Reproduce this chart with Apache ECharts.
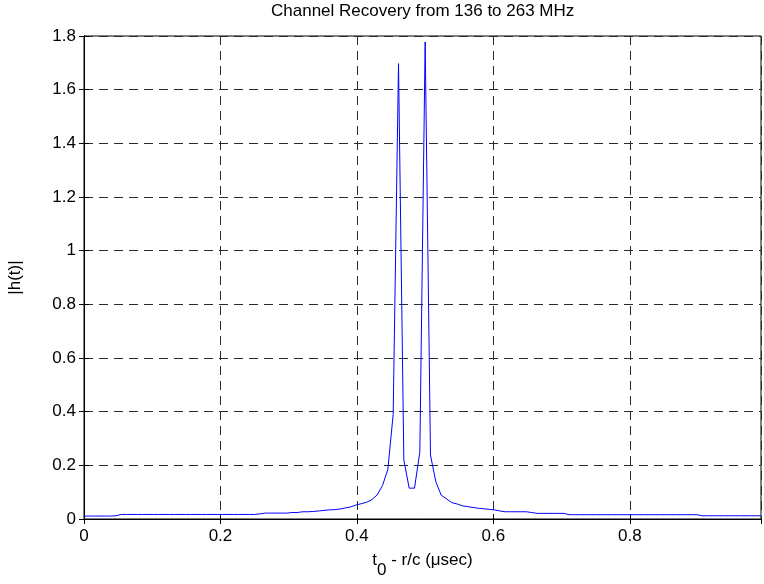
<!DOCTYPE html>
<html>
<head>
<meta charset="utf-8">
<script src="https://cdn.jsdelivr.net/npm/echarts@6/dist/echarts.min.js"></script>
<style>
html,body{margin:0;padding:0;background:#fff;}
#chart{width:764px;height:584px;}
</style>
</head>
<body>
<div id="chart"></div>
<script>
// ---- data ----
const chartTitle = 'Channel Recovery from 136 to 263 MHz';
const xName = 't0 - r/c (μsec)';
const yName = '|h(t)|';
const sampleStep = 1 / 128;          // time spacing of samples (µs)
const xMax = 127 / 128;
const xTickStep = 0.2;
const yMin = 0, yMax = 1.8, yTickStep = 0.2;
const hValues = [
  0.011, 0.011, 0.011, 0.011, 0.011, 0.011, 0.012, 0.017, 0.017, 0.017,
  0.017, 0.017, 0.017, 0.017, 0.017, 0.017, 0.017, 0.017, 0.017, 0.017,
  0.017, 0.017, 0.017, 0.017, 0.017, 0.017, 0.017, 0.017, 0.017, 0.017,
  0.017, 0.017, 0.017, 0.019, 0.022, 0.022, 0.022, 0.022, 0.022, 0.024,
  0.024, 0.027, 0.027, 0.028, 0.030, 0.032, 0.034, 0.035, 0.037, 0.041,
  0.045, 0.052, 0.057, 0.062, 0.072, 0.090, 0.125, 0.185, 0.390, 1.697,
  0.220, 0.115, 0.115, 0.250, 1.778, 0.238, 0.139, 0.089, 0.075, 0.061,
  0.056, 0.049, 0.046, 0.043, 0.040, 0.038, 0.036, 0.034, 0.030, 0.027,
  0.027, 0.027, 0.027, 0.027, 0.024, 0.021, 0.021, 0.021, 0.021, 0.021,
  0.021, 0.016, 0.016, 0.016, 0.016, 0.016, 0.016, 0.016, 0.016, 0.016,
  0.016, 0.016, 0.016, 0.016, 0.016, 0.016, 0.016, 0.016, 0.016, 0.016,
  0.016, 0.016, 0.016, 0.016, 0.016, 0.016, 0.012, 0.012, 0.012, 0.012,
  0.012, 0.012, 0.012, 0.012, 0.012, 0.012, 0.012, 0.012
];

const seriesData = hValues.map((v, i) => [i * sampleStep, v]);

const FONT = 'Liberation Sans, Arial, Helvetica, sans-serif';
const FS = 17;
const gridL = 84, gridR = 3, gridT = 36, gridB = 65;
const W = 764;

// center the title over the plotting area
const cv = document.createElement('canvas').getContext('2d');
cv.font = FS + 'px ' + FONT;
const titleW = cv.measureText(chartTitle).width;
const plotCenter = gridL + (W - gridL - gridR) / 2;

const gridLine = { show: true, lineStyle: { color: '#2a2a2a', width: 1, type: [9, 6] } };
const tickIn = { show: true, inside: true, length: 5, lineStyle: { color: '#000' } };
const axisLineBlack = { show: true, lineStyle: { color: '#000', width: 1 } };

const chart = echarts.init(document.getElementById('chart'), null, { renderer: 'canvas' });
chart.setOption({
  animation: false,
  backgroundColor: '#fff',
  title: {
    text: chartTitle,
    left: Math.round(plotCenter - titleW / 2),
    top: 3,
    padding: 0,
    textStyle: { fontFamily: FONT, fontSize: FS, fontWeight: 'normal', color: '#000' }
  },
  grid: {
    left: gridL, right: gridR, top: gridT, bottom: gridB,
    containLabel: false, outerBoundsMode: 'none',
    show: true, borderColor: '#000', borderWidth: 1
  },
  xAxis: [{
    type: 'value', min: 0, max: xMax, interval: xTickStep, position: 'bottom',
    axisLine: axisLineBlack, axisTick: tickIn, splitLine: gridLine,
    axisLabel: { color: '#000', fontFamily: FONT, fontSize: FS, margin: 9, showMaxLabel: false },
    name: '{t|t}{s|0}{t| - r/c (μsec)}',
    nameLocation: 'middle', nameGap: 33,
    nameTextStyle: {
      rich: {
        t: { fontFamily: FONT, fontSize: FS, color: '#000', verticalAlign: 'top', lineHeight: 22 },
        s: { fontFamily: FONT, fontSize: FS, color: '#000', verticalAlign: 'top', lineHeight: 22, padding: [10, 0, 0, 0] }
      }
    }
  }, {
    type: 'value', min: 0, max: xMax, interval: xTickStep, position: 'top',
    axisLine: axisLineBlack, axisTick: tickIn, splitLine: { show: false },
    axisLabel: { show: false }
  }],
  yAxis: [{
    type: 'value', min: yMin, max: yMax, interval: yTickStep, position: 'left',
    axisLine: axisLineBlack, axisTick: tickIn, splitLine: gridLine,
    axisLabel: { color: '#000', fontFamily: FONT, fontSize: FS, margin: 8 },
    name: yName, nameLocation: 'middle', nameGap: 60, nameRotate: 90,
    nameTextStyle: { fontFamily: FONT, fontSize: FS, color: '#000' }
  }, {
    type: 'value', min: yMin, max: yMax, interval: yTickStep, position: 'right',
    axisLine: axisLineBlack, axisTick: tickIn, splitLine: { show: false },
    axisLabel: { show: false }
  }],
  series: [{
    type: 'line', xAxisIndex: 0, yAxisIndex: 0,
    data: seriesData, showSymbol: false, symbol: 'none',
    lineStyle: { color: '#0000ff', width: 1 }, z: 5
  }]
});
</script>
</body>
</html>
